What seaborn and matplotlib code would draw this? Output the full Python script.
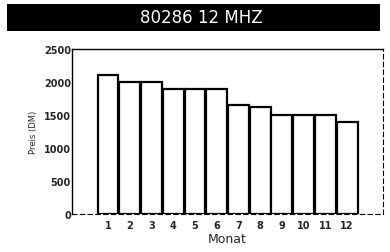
import pandas as pd
import seaborn as sns
import matplotlib.pyplot as plt
from matplotlib.patches import Rectangle

monate = ['1', '2', '3', '4', '5', '6', '7', '8', '9', '10', '11', '12']
preis = [2100, 2000, 2000, 1900, 1900, 1900, 1650, 1625, 1500, 1500, 1500, 1400]

df = pd.DataFrame({'Monat': monate, 'Preis': preis})

sns.set_style('white')
fig = plt.figure(figsize=(3.9, 2.53), dpi=100)
ax = fig.add_axes([0.185, 0.150, 0.797, 0.652])

sns.barplot(x='Monat', y='Preis', data=df, color='white', edgecolor='black',
            linewidth=1.6, width=0.96, ax=ax)

ax.set_xlim(-1.65, 12.65)
ax.set_ylim(0, 2500)
ax.set_yticks([0, 500, 1000, 1500, 2000, 2500])
ax.tick_params(axis='y', labelsize=7, length=3, direction='in', pad=1)
ax.tick_params(axis='x', labelsize=7, length=0, pad=4)
for lbl in ax.get_xticklabels() + ax.get_yticklabels():
    lbl.set_fontweight('bold')
ax.set_xlabel('Monat', fontsize=9, labelpad=2)
ax.set_ylabel('Preis (DM)', fontsize=6, labelpad=4)

for side in ['left', 'top']:
    ax.spines[side].set_color('black')
    ax.spines[side].set_linewidth(1.0)
for side in ['bottom', 'right']:
    ax.spines[side].set_color('black')
    ax.spines[side].set_linewidth(0.8)
    ax.spines[side].set_linestyle((0, (4, 3)))

# schwarzer Titelbalken
fig.add_artist(Rectangle((0.018, 0.874), 0.956, 0.106, transform=fig.transFigure,
                         facecolor='black', edgecolor='none'))
fig.text(0.515, 0.927, '80286 12 MHZ', color='white', fontsize=12,
         ha='center', va='center')

plt.savefig('out.png', dpi=100)
